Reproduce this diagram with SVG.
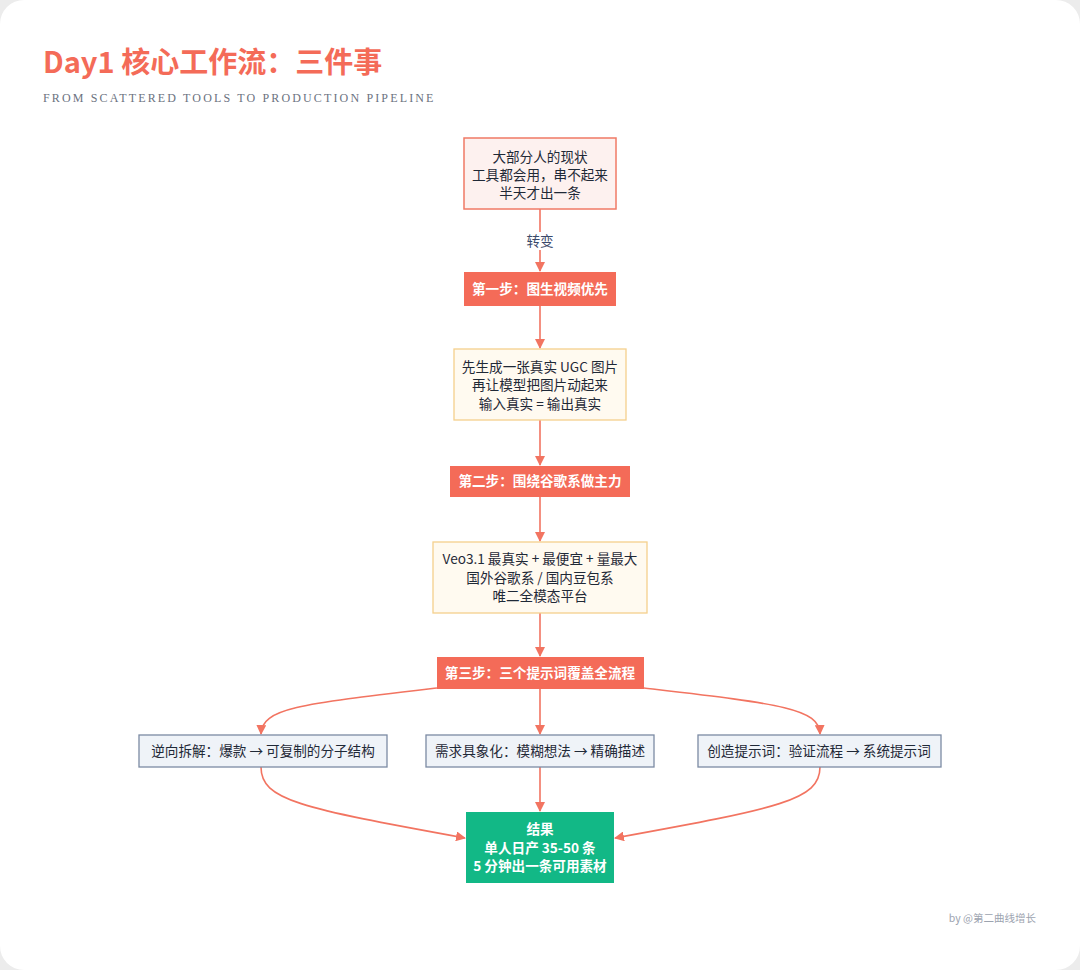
<svg xmlns="http://www.w3.org/2000/svg" width="1080" height="970" viewBox="0 0 1080 970">
<defs>
<style>
.cjk{font-family:"Noto Sans CJK SC","Noto Sans",sans-serif;}
.t{font-size:13.6px;fill:#1f2937;text-anchor:middle;}
.tw{font-size:13.6px;fill:#ffffff;text-anchor:middle;font-weight:bold;}
.edge{fill:none;stroke:#f27461;stroke-width:1.6;}
.soft{fill:#fdf1ef;stroke:#f07a66;stroke-width:1.5;}
.step{fill:#f46b58;}
.cream{fill:#fffaf0;stroke:#f5d08c;stroke-width:1.3;}
.gray{fill:#eff3f8;stroke:#7b8aa3;stroke-width:1.3;}
.green{fill:#12b886;}
</style>
<marker id="ah" viewBox="0 0 10 10" refX="9" refY="5" markerWidth="10" markerHeight="10" markerUnits="userSpaceOnUse" orient="auto">
<path d="M0,0 L10,5 L0,10 z" fill="#f27461"/>
</marker>
</defs>
<rect x="0" y="0" width="1080" height="970" fill="#ececec"/>
<rect x="0" y="0" width="1080" height="970" rx="24" fill="#ffffff"/>
<text x="43" y="73" class="cjk" font-size="29" font-weight="bold" fill="#f46b58">Day1 核心工作流：三件事</text>
<text x="43" y="102" font-family="Liberation Serif,serif" font-size="12" fill="#6b7280" letter-spacing="2.15">FROM SCATTERED TOOLS TO PRODUCTION PIPELINE</text>

<g id="connectors">
<path class="edge" d="M540,209 L540,271" marker-end="url(#ah)"/>
<path class="edge" d="M540,306 L540,348" marker-end="url(#ah)"/>
<path class="edge" d="M540,420 L540,465" marker-end="url(#ah)"/>
<path class="edge" d="M540,497 L540,541" marker-end="url(#ah)"/>
<path class="edge" d="M540,613 L540,656" marker-end="url(#ah)"/>
<path class="edge" d="M437,688 C300,704 262,708 261,734" marker-end="url(#ah)"/>
<path class="edge" d="M540,689 L540,734" marker-end="url(#ah)"/>
<path class="edge" d="M644,688 C780,704 819,708 820,734" marker-end="url(#ah)"/>
<path class="edge" d="M261,767 C261,800 300,808 465,838" marker-end="url(#ah)"/>
<path class="edge" d="M540,767 L540,811" marker-end="url(#ah)"/>
<path class="edge" d="M820,767 C820,800 780,808 615,838" marker-end="url(#ah)"/>
<rect x="523" y="232" width="34" height="18" fill="#ffffff"/>
<text x="540" y="246" class="cjk" font-size="13.6" fill="#3b4a6b" text-anchor="middle">转变</text>
</g>

<g id="n1">
<rect class="soft" x="464" y="138" width="152" height="71"/>
<text class="cjk t" x="540" y="162">大部分人的现状</text>
<text class="cjk t" x="540" y="180">工具都会用，串不起来</text>
<text class="cjk t" x="540" y="198">半天才出一条</text>
</g>
<g id="n2">
<rect class="step" x="464" y="272" width="152" height="34"/>
<text class="cjk tw" x="540" y="294">第一步：图生视频优先</text>
</g>
<g id="n3">
<rect class="cream" x="454" y="349" width="172" height="71"/>
<text class="cjk t" x="540" y="372">先生成一张真实 UGC 图片</text>
<text class="cjk t" x="540" y="390">再让模型把图片动起来</text>
<text class="cjk t" x="540" y="409">输入真实 = 输出真实</text>
</g>
<g id="n4">
<rect class="step" x="450" y="466" width="180" height="31"/>
<text class="cjk tw" x="540" y="486">第二步：围绕谷歌系做主力</text>
</g>
<g id="n5">
<rect class="cream" x="433" y="542" width="214" height="71"/>
<text class="cjk t" x="540" y="564">Veo3.1 最真实 + 最便宜 + 量最大</text>
<text class="cjk t" x="540" y="583">国外谷歌系 / 国内豆包系</text>
<text class="cjk t" x="540" y="601">唯二全模态平台</text>
</g>
<g id="n6">
<rect class="step" x="437" y="657" width="207" height="32"/>
<text class="cjk tw" x="540" y="678">第三步：三个提示词覆盖全流程</text>
</g>
<g id="n7">
<rect class="gray" x="139" y="735" width="248" height="32"/>
<text class="cjk t" x="263" y="756">逆向拆解：爆款 → 可复制的分子结构</text>
</g>
<g id="n8">
<rect class="gray" x="426" y="735" width="228" height="32"/>
<text class="cjk t" x="540" y="756">需求具象化：模糊想法 → 精确描述</text>
</g>
<g id="n9">
<rect class="gray" x="698" y="735" width="243" height="32"/>
<text class="cjk t" x="819" y="756">创造提示词：验证流程 → 系统提示词</text>
</g>
<g id="n10">
<rect class="green" x="466" y="812" width="148" height="71"/>
<text class="cjk tw" x="540" y="834">结果</text>
<text class="cjk tw" x="540" y="853">单人日产 35-50 条</text>
<text class="cjk tw" x="540" y="871">5 分钟出一条可用素材</text>
</g>
<text x="1036" y="922" class="cjk" font-size="10.5" fill="#9ca3af" text-anchor="end">by @第二曲线增长</text>
</svg>
